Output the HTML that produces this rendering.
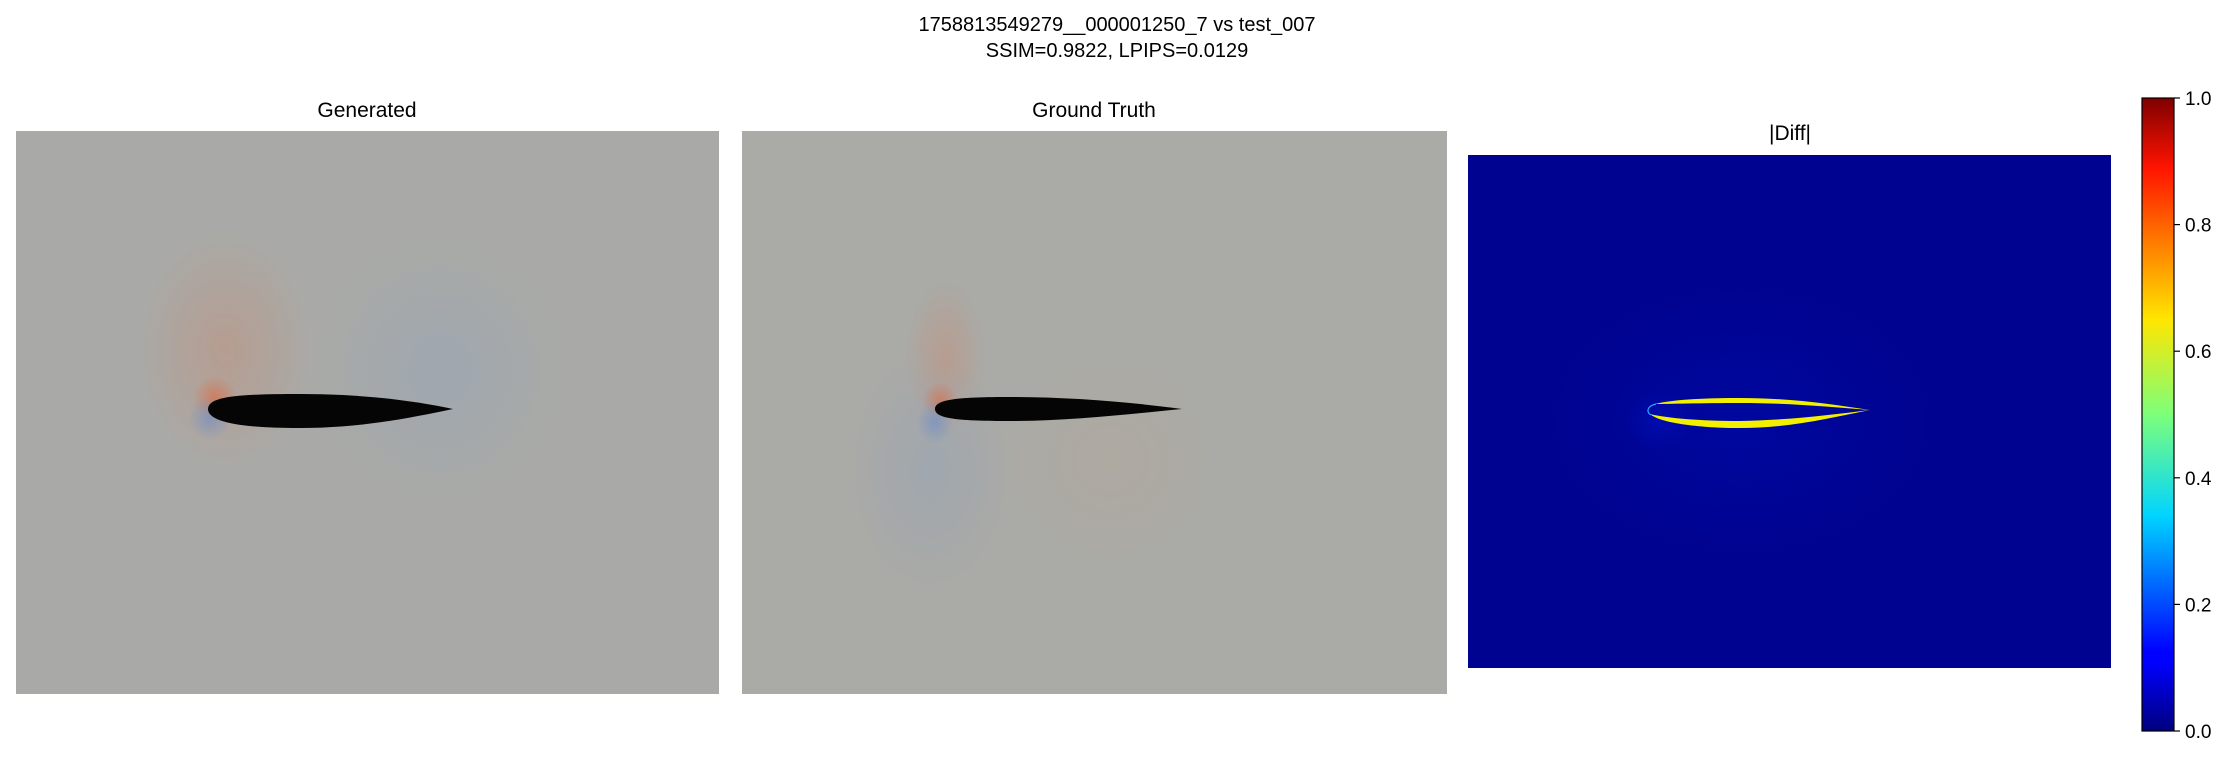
<!DOCTYPE html>
<html><head><meta charset="utf-8">
<style>
html,body{margin:0;padding:0;background:#fff;}
body{width:2234px;height:754px;overflow:hidden;font-family:"Liberation Sans",sans-serif;}
</style></head>
<body>
<svg width="2234" height="754" xmlns="http://www.w3.org/2000/svg">
<defs>
<radialGradient id="gRed" cx="0.5" cy="0.5" r="0.5">
<stop offset="0" stop-color="#d87a55" stop-opacity="0.28"/><stop offset="1" stop-color="#d87a55" stop-opacity="0"/></radialGradient>
<radialGradient id="gRedCore" cx="0.5" cy="0.5" r="0.5">
<stop offset="0" stop-color="#e0663a" stop-opacity="0.6"/><stop offset="1" stop-color="#e0663a" stop-opacity="0"/></radialGradient>
<radialGradient id="gBlue" cx="0.5" cy="0.5" r="0.5">
<stop offset="0" stop-color="#7f9cc8" stop-opacity="0.25"/><stop offset="1" stop-color="#7f9cc8" stop-opacity="0"/></radialGradient>
<radialGradient id="gBlueStrong" cx="0.5" cy="0.5" r="0.5">
<stop offset="0" stop-color="#5f86d0" stop-opacity="0.5"/><stop offset="1" stop-color="#5f86d0" stop-opacity="0"/></radialGradient>
<radialGradient id="gTan" cx="0.5" cy="0.5" r="0.5">
<stop offset="0" stop-color="#c0a48e" stop-opacity="0.22"/><stop offset="1" stop-color="#c0a48e" stop-opacity="0"/></radialGradient>
<radialGradient id="gGlow" cx="0.5" cy="0.5" r="0.5">
<stop offset="0" stop-color="#0018d8" stop-opacity="0.7"/><stop offset="1" stop-color="#0018d8" stop-opacity="0"/></radialGradient>
<linearGradient id="jet" x1="0" y1="1" x2="0" y2="0">
<stop offset="0" stop-color="#00007f"/><stop offset="0.11" stop-color="#0000ff"/>
<stop offset="0.125" stop-color="#0000ff"/><stop offset="0.34" stop-color="#00d4ff"/>
<stop offset="0.5" stop-color="#7dff7a"/><stop offset="0.65" stop-color="#ffe600"/>
<stop offset="0.89" stop-color="#ff1300"/><stop offset="1" stop-color="#7f0000"/></linearGradient>
<clipPath id="c1"><rect x="16" y="131" width="703" height="563"/></clipPath>
<clipPath id="c2"><rect x="742" y="131" width="705" height="563"/></clipPath>
</defs>

<text x="1117" y="31" font-size="20" text-anchor="middle" fill="#000">1758813549279__000001250_7 vs test_007</text>
<text x="1117" y="57" font-size="20" text-anchor="middle" fill="#000">SSIM=0.9822, LPIPS=0.0129</text>

<text x="367" y="117" font-size="21" text-anchor="middle">Generated</text>
<g clip-path="url(#c1)">
<rect x="16" y="131" width="703" height="563" fill="#a9aaa7"/>
<ellipse cx="225" cy="350" rx="90" ry="120" fill="url(#gRed)"/>
<ellipse cx="215" cy="398" rx="22" ry="22" fill="url(#gRedCore)"/>
<ellipse cx="440" cy="370" rx="120" ry="130" fill="url(#gBlue)"/>
<ellipse cx="210" cy="418" rx="22" ry="22" fill="url(#gBlueStrong)"/>
<path d="M208,409 C208,396 240,394 300,394 C360,394 410,400 453,409 C410,418 360,428 300,428 C240,428 208,422 208,409 Z" fill="#050505"/>
</g>

<text x="1094" y="117" font-size="21" text-anchor="middle">Ground Truth</text>
<g clip-path="url(#c2)">
<rect x="742" y="131" width="705" height="563" fill="#aaaaa6"/>
<ellipse cx="945" cy="360" rx="40" ry="80" fill="url(#gRed)"/>
<ellipse cx="940" cy="400" rx="18" ry="18" fill="url(#gRedCore)"/>
<ellipse cx="930" cy="470" rx="80" ry="120" fill="url(#gBlue)"/>
<ellipse cx="935" cy="422" rx="18" ry="22" fill="url(#gBlueStrong)"/>
<ellipse cx="1110" cy="460" rx="110" ry="110" fill="url(#gTan)"/>
<path d="M935,409 C935,399 960,397 1010,397 C1070,397 1130,402 1182,409 C1130,414 1070,421 1010,421 C960,421 935,419 935,409 Z" fill="#050505"/>
</g>

<text x="1790" y="140" font-size="21" text-anchor="middle">|Diff|</text>
<g>
<rect x="1468" y="155" width="643" height="513" fill="#00038f"/>
<ellipse cx="1740" cy="420" rx="200" ry="140" fill="url(#gGlow)" opacity="0.3"/>
<ellipse cx="1660" cy="420" rx="35" ry="30" fill="url(#gGlow)" opacity="0.5"/>
<path d="M1655,404 C1675,399 1710,398 1740,398 C1790,398 1830,404 1870,410 C1830,407 1790,403 1740,403 C1700,403 1670,404 1655,404 Z" fill="#f2f000"/>
<path d="M1650,414 C1660,423 1700,428 1740,428 C1790,428 1830,418 1870,410 C1830,415 1790,420 1740,421 C1700,421 1665,418 1650,414 Z" fill="#f2f000"/>
<path d="M1656,404 C1647,406 1646,412 1651,415" stroke="#30a0ff" stroke-width="1.2" fill="none"/>
</g>

<g id="cbar">
<rect x="2142" y="98" width="32" height="633" fill="url(#jet)" stroke="#000" stroke-width="1.2"/>
</g>
</svg>
<script>
const cbTicks=[0.0,0.2,0.4,0.6,0.8,1.0];
const cbLabels=["0.0","0.2","0.4","0.6","0.8","1.0"];
const cbTop=98,cbBottom=731,cbRight=2174;
function yScale(v){return cbBottom-(cbBottom-cbTop)*v;}
const svgNS="http://www.w3.org/2000/svg";
const g=document.getElementById('cbar');
cbTicks.forEach((t,i)=>{
  const y=yScale(t);
  const l=document.createElementNS(svgNS,'line');
  l.setAttribute('x1',cbRight);l.setAttribute('x2',cbRight+6);
  l.setAttribute('y1',y);l.setAttribute('y2',y);
  l.setAttribute('stroke','#000');l.setAttribute('stroke-width','1.2');
  
  
  g.appendChild(l);
  const tx=document.createElementNS(svgNS,'text');
  tx.setAttribute('x',cbRight+11);tx.setAttribute('y',y+7);
  tx.setAttribute('font-size','19');
  tx.textContent=cbLabels[i];
  
  
  g.appendChild(tx);
});
</script>
</body></html>
